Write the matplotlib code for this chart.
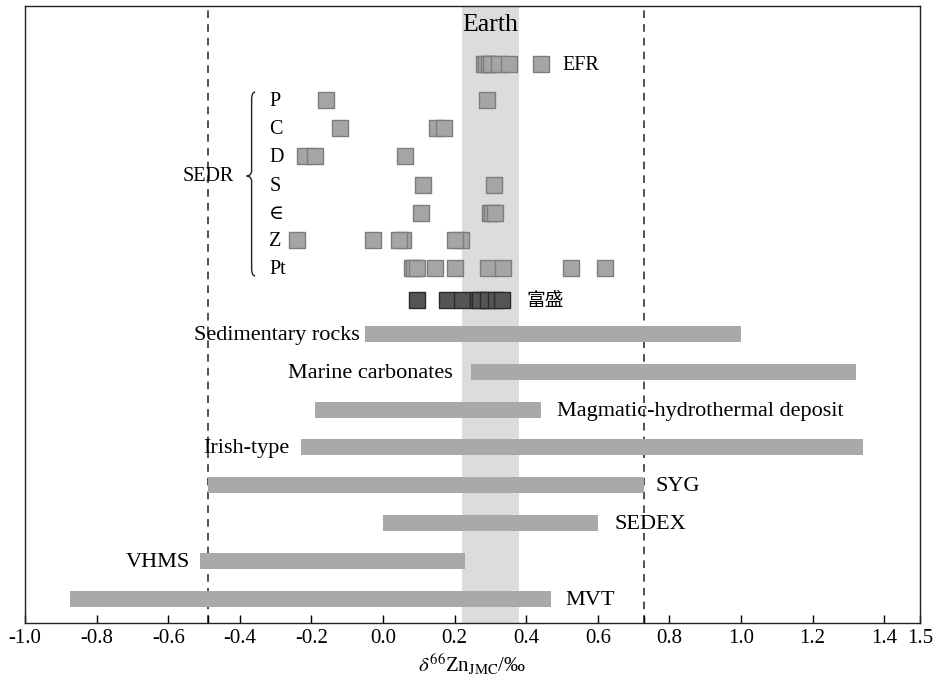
import matplotlib
matplotlib.use("Agg")
import matplotlib.pyplot as plt
from matplotlib.path import Path
from matplotlib.patches import PathPatch

plt.rcParams['font.family'] = ['Liberation Serif', 'DejaVu Serif', 'Noto Sans CJK SC']
plt.rcParams['mathtext.fontset'] = 'stix'
plt.rcParams['axes.unicode_minus'] = False

# ---- data (delta66Zn, per mil) ----
earth_lo, earth_hi = 0.22, 0.38
dash_lines = [-0.49, 0.73]

efr_vals = [0.283, 0.289, 0.296, 0.303, 0.324, 0.352, 0.442]

sedr_names = ["P", "C", "D", "S", "\u2208", "Z", "Pt"]
sedr_vals = [
    [-0.16, 0.29],
    [-0.12, 0.15, 0.171],
    [-0.219, -0.19, 0.061],
    [0.111, 0.31],
    [0.105, 0.299, 0.305, 0.312],
    [-0.241, -0.029, 0.057, 0.044, 0.217, 0.20],
    [0.082, 0.087, 0.094, 0.145, 0.202, 0.293, 0.335, 0.526, 0.62],
]

fusheng_vals = [0.094, 0.178, 0.220, 0.264, 0.272, 0.292, 0.316, 0.333]

range_names = ["Sedimentary rocks", "Marine carbonates", "Magmatic-hydrothermal deposit",
               "Irish-type", "SYG", "SEDEX", "VHMS", "MVT"]
range_lo = [-0.05, 0.245, -0.19, -0.23, -0.49, 0.0, -0.51, -0.875]
range_hi = [1.0, 1.32, 0.44, 1.34, 0.73, 0.60, 0.23, 0.47]
label_side = ["left", "left", "right", "left", "right", "right", "left", "right"]
label_gap = [0.014, 0.05, 0.045, 0.03, 0.03, 0.048, 0.03, 0.04]

# ---- layout (y in image rows, top down) ----
y_efr = 64
y_sedr = [100, 128, 156, 185, 213, 240, 268]
y_fusheng = 300
y_ranges = [334, 372, 410, 447, 485, 523, 561, 599]

fig = plt.figure(figsize=(9.39, 6.8), dpi=100)
ax = fig.add_axes([25 / 939, 1 - 623 / 680, 895 / 939, 617 / 680])
ax.set_xlim(-1.0, 1.5)
ax.set_ylim(623, 6)

ax.axvspan(earth_lo, earth_hi, color='#dcdcdc', lw=0, zorder=0)
for xv in dash_lines:
    ax.axvline(xv, color='#222222', lw=1.1, ls=(0, (5, 4)), zorder=1)

sq = 128
light = dict(marker='s', s=sq, c='#a5a5a5', edgecolors='#7d7d7d', linewidths=1, zorder=3)
dark = dict(marker='s', s=sq, c='#555555', edgecolors='#2a2a2a', linewidths=1, zorder=3)

ax.scatter(efr_vals, [y_efr] * len(efr_vals), **light)
ax.text(0.50, y_efr + 1, "EFR", fontsize=14.5, va='center', ha='left')

for name, vals, yy in zip(sedr_names, sedr_vals, y_sedr):
    ax.scatter(vals, [yy] * len(vals), **light)
    ax.text(-0.318, yy + 1, name, fontsize=14.5, va='center', ha='left')

ax.scatter(fusheng_vals, [y_fusheng] * len(fusheng_vals), **dark)
ax.text(0.40, y_fusheng, "富盛", fontsize=13.5, va='center', ha='left', family='Noto Sans CJK SC')

# brace for SEDR
bx_hook, bx_mid, bx_tip = -0.357, -0.367, -0.381
top, mid, bot = 92, 176, 276
verts = [(bx_hook, top), (bx_mid, top), (bx_mid, top + 8),
         (bx_mid, mid - 6), (bx_mid, mid), (bx_tip, mid),
         (bx_mid, mid), (bx_mid, mid + 6),
         (bx_mid, bot - 8), (bx_mid, bot), (bx_hook, bot)]
codes = [Path.MOVETO, Path.CURVE3, Path.CURVE3,
         Path.LINETO, Path.CURVE3, Path.CURVE3,
         Path.CURVE3, Path.CURVE3,
         Path.LINETO, Path.CURVE3, Path.CURVE3]
ax.add_patch(PathPatch(Path(verts, codes), fill=False, lw=1.0, ec='#222222', zorder=3))
ax.text(-0.416, 176, "SEDR", fontsize=14.5, va='center', ha='right')

ax.text(0.30, 25, "Earth", fontsize=18.5, va='center', ha='center')

widths = [h - l for l, h in zip(range_lo, range_hi)]
ax.barh(y_ranges, widths, left=range_lo, height=16, color='#a9a9a9', zorder=2)
for name, lo, hi, yy, side, gap in zip(range_names, range_lo, range_hi, y_ranges, label_side, label_gap):
    if side == "left":
        ax.text(lo - gap, yy + 1, name, fontsize=16, va='center', ha='right', zorder=4)
    else:
        ax.text(hi + gap, yy + 1, name, fontsize=16, va='center', ha='left', zorder=4)

major = [-1.0, -0.8, -0.6, -0.4, -0.2, 0.0, 0.2, 0.4, 0.6, 0.8, 1.0, 1.2, 1.4, 1.5]
ax.set_xticks(major)
ax.set_xticklabels(["%.1f" % v for v in major], fontsize=15)
ax.set_xticks(dash_lines, minor=True)
ax.tick_params(axis='x', which='both', direction='in', length=6, width=1, pad=4)
ax.set_yticks([])
ax.set_xlabel(r'$\delta^{66}$Zn$_{\mathrm{JMC}}$/‰', fontsize=15, labelpad=3)
for sp in ax.spines.values():
    sp.set_linewidth(1.0)
    sp.set_color('#222222')

fig.savefig("out.png", dpi=100)
